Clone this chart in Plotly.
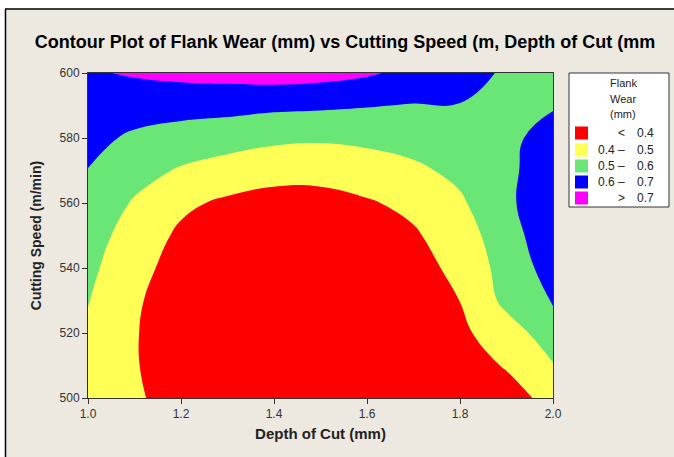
import plotly.graph_objects as go

# ---- data ----
depth_of_cut = [1.0, 1.1, 1.2, 1.3, 1.4, 1.5, 1.6, 1.7, 1.8, 1.9, 2.0]          # x (mm)
cutting_speed = [500, 510, 520, 530, 540, 550, 560, 570, 580, 590, 600]       # y (m/min)

# flank wear estimates, one list per depth-of-cut column (bottom -> top in cutting speed)
wear_d10 = [0.44, 0.46, 0.48, 0.505, 0.525, 0.55, 0.575, 0.598, 0.625, 0.65, 0.69]
wear_d11 = [0.41, 0.405, 0.405, 0.41, 0.425, 0.45, 0.49, 0.538, 0.586, 0.64, 0.71]
wear_d12 = [0.37, 0.36, 0.355, 0.36, 0.37, 0.385, 0.417, 0.49, 0.56, 0.636, 0.725]
wear_d13 = [0.34, 0.33, 0.325, 0.33, 0.34, 0.36, 0.385, 0.455, 0.545, 0.63, 0.735]
wear_d14 = [0.33, 0.315, 0.31, 0.315, 0.325, 0.345, 0.38, 0.42, 0.525, 0.62, 0.745]
wear_d15 = [0.33, 0.315, 0.31, 0.315, 0.325, 0.345, 0.38, 0.42, 0.515, 0.615, 0.735]
wear_d16 = [0.34, 0.325, 0.32, 0.325, 0.34, 0.36, 0.392, 0.445, 0.525, 0.605, 0.712]
wear_d17 = [0.35, 0.34, 0.34, 0.35, 0.365, 0.39, 0.42, 0.48, 0.54, 0.595, 0.675]
wear_d18 = [0.36, 0.37, 0.38, 0.401, 0.425, 0.445, 0.485, 0.525, 0.56, 0.595, 0.66]
wear_d19 = [0.375, 0.405, 0.455, 0.525, 0.54, 0.565, 0.585, 0.585, 0.585, 0.585, 0.58]
wear_d20 = [0.42, 0.495, 0.55, 0.61, 0.64, 0.655, 0.655, 0.64, 0.625, 0.595, 0.575]

columns = [wear_d10, wear_d11, wear_d12, wear_d13, wear_d14, wear_d15,
           wear_d16, wear_d17, wear_d18, wear_d19, wear_d20]
# z[row = speed][col = depth]
z = [[col[i] for col in columns] for i in range(len(cutting_speed))]

band_labels = [("", "<", "0.4"), ("0.4", "–", "0.5"), ("0.5", "–", "0.6"),
               ("0.6", "–", "0.7"), ("", ">", "0.7")]
band_colors = ["#FF0000", "#FFFF55", "#6AE676", "#0000FF", "#FF00FF"]

W, H = 674, 457
L, R, T, B = 88, 553, 73, 398   # plot area in pixels
BG = "#EDE9E0"


def px(x):
    return (x - L) / (R - L)


def py(y):
    return (B - y) / (B - T)


cs = [[0.0, band_colors[0]], [0.125, band_colors[0]],
      [0.125, band_colors[1]], [0.375, band_colors[1]],
      [0.375, band_colors[2]], [0.625, band_colors[2]],
      [0.625, band_colors[3]], [0.875, band_colors[3]],
      [0.875, band_colors[4]], [1.0, band_colors[4]]]

fig = go.Figure(go.Contour(
    x=depth_of_cut, y=cutting_speed, z=z,
    contours=dict(start=0.4, end=0.7, size=0.1, coloring="fill"),
    colorscale=cs, zmin=0.35, zmax=0.75,
    line=dict(width=0, smoothing=1.3),
    showscale=False, hoverinfo="skip",
))

font = "Liberation Sans"
shapes = []
annotations = []

# outer frame: white strips at top and left with a black rule
shapes.append(dict(type="rect", xref="paper", yref="paper", x0=px(0), x1=px(W), y0=py(0), y1=py(8.5),
                   fillcolor="white", line=dict(width=0), layer="below"))
shapes.append(dict(type="rect", xref="paper", yref="paper", x0=px(0), x1=px(5), y0=py(0), y1=py(H),
                   fillcolor="white", line=dict(width=0), layer="below"))
shapes.append(dict(type="line", xref="paper", yref="paper", x0=px(5), x1=px(W), y0=py(9), y1=py(9),
                   line=dict(color="black", width=1.5)))
shapes.append(dict(type="line", xref="paper", yref="paper", x0=px(5.5), x1=px(5.5), y0=py(9), y1=py(H),
                   line=dict(color="black", width=1.5)))

# legend box
shapes.append(dict(type="rect", xref="paper", yref="paper", x0=px(569), x1=px(669), y0=py(73), y1=py(207),
                   fillcolor="white", line=dict(color="#333333", width=1)))
for t, yy in zip(["Flank", "Wear", "(mm)"], [83, 99, 114]):
    annotations.append(dict(xref="paper", yref="paper", x=px(623), y=py(yy), text=t, showarrow=False,
                            xanchor="center", yanchor="middle", font=dict(family=font, size=11, color="#222222")))
row_y = [133, 150, 166, 182, 198]
for (lo, sym, hi), col, yy in zip(band_labels, band_colors, row_y):
    shapes.append(dict(type="rect", xref="paper", yref="paper", x0=px(575), x1=px(588),
                       y0=py(yy + 6.5), y1=py(yy - 6.5), fillcolor=col, line=dict(width=0)))
    if lo:
        annotations.append(dict(xref="paper", yref="paper", x=px(596), y=py(yy), text=lo, showarrow=False,
                                xanchor="left", yanchor="middle", font=dict(family=font, size=12, color="#222222")))
    annotations.append(dict(xref="paper", yref="paper", x=px(621), y=py(yy), text=sym, showarrow=False,
                            xanchor="center", yanchor="middle", font=dict(family=font, size=12, color="#222222")))
    annotations.append(dict(xref="paper", yref="paper", x=px(645), y=py(yy), text=hi, showarrow=False,
                            xanchor="center", yanchor="middle", font=dict(family=font, size=12, color="#222222")))

fig.update_layout(
    width=W, height=H,
    margin=dict(l=L, r=W - R, t=T, b=H - B, pad=0),
    paper_bgcolor=BG, plot_bgcolor=BG,
    title=dict(text="<b>Contour Plot of Flank Wear (mm) vs Cutting Speed (m, Depth of Cut (mm</b>",
               x=345 / W, xanchor="center", xref="container",
               y=1 - 42 / H, yanchor="middle", yref="container",
               font=dict(family=font, size=18, color="black")),
    xaxis=dict(range=[1.0, 2.0], tickvals=[1.0, 1.2, 1.4, 1.6, 1.8, 2.0],
               ticktext=["1.0", "1.2", "1.4", "1.6", "1.8", "2.0"],
               ticks="outside", ticklen=5, tickcolor="#333333", showline=True, linecolor="#333333",
               linewidth=1, mirror=True, showgrid=False, zeroline=False,
               tickfont=dict(family=font, size=12, color="#333333"),
               title=dict(text="<b>Depth of Cut (mm)</b>", standoff=8,
                          font=dict(family=font, size=15, color="#222222"))),
    yaxis=dict(range=[500, 600], tickvals=[500, 520, 540, 560, 580, 600],
               ticks="outside", ticklen=5, tickcolor="#333333", showline=True, linecolor="#333333",
               linewidth=1, mirror=True, showgrid=False, zeroline=False,
               tickfont=dict(family=font, size=12, color="#333333"),
               title=dict(text="<b>Cutting Speed (m/min)</b>", standoff=14,
                          font=dict(family=font, size=14, color="#222222"))),
    shapes=shapes, annotations=annotations,
)

fig.write_html("out.html", config={"displayModeBar": False},
               post_script="document.body.style.margin='0';document.body.style.overflow='hidden';")
